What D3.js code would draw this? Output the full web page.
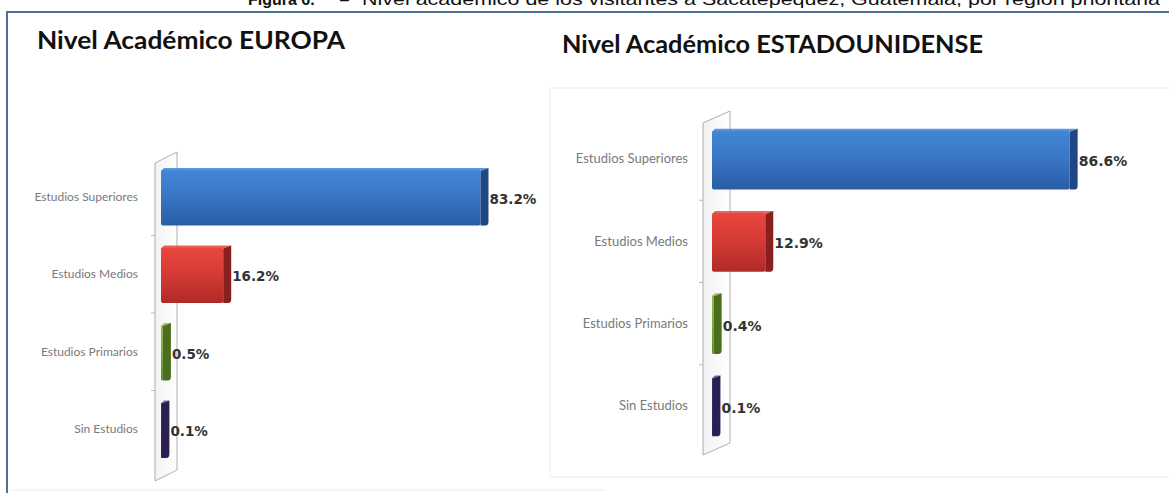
<!DOCTYPE html>
<html>
<head>
<meta charset="utf-8">
<script src="https://cdn.jsdelivr.net/npm/d3@7"></script>
<style>
  html, body { margin: 0; padding: 0; background: #fff; }
  svg { display: block; }
  .cat text { font-family: Lato, "Open Sans", sans-serif; fill: #7a7a7a; }
  .val { font-family: "DejaVu Sans", Verdana, sans-serif; font-weight: bold; fill: #333; }
  .title { font-family: Lato, "Open Sans", sans-serif; font-weight: bold; fill: #111; }
</style>
</head>
<body>
<div id="chart"></div>
<script>
const categories = ["Estudios Superiores", "Estudios Medios", "Estudios Primarios", "Sin Estudios"];
const europa = [83.2, 16.2, 0.5, 0.1];
const estadosUnidos = [86.6, 12.9, 0.4, 0.1];
const valueLabels = { europa: ["83.2%", "16.2%", "0.5%", "0.1%"], eeuu: ["86.6%", "12.9%", "0.4%", "0.1%"] };

// colour per category: [top, bottom, side]
const palette = [
    ["#4286d6", "#2a5ca6", "#1f4784"],
    ["#ea463d", "#b02a28", "#87201e"],
    ["#92bb45", "#5e8a28", "#4a6e1e"],
    ["#5e4c94", "#39296a", "#2a1f50"]
];

const W = 1169, H = 493;
const svg = d3.select("#chart").append("svg")
    .attr("width", W).attr("height", H);

const defs = svg.append("defs");
palette.forEach((p, i) => {
    const g = defs.append("linearGradient")
        .attr("id", "front" + i).attr("x1", 0).attr("y1", 0).attr("x2", 0).attr("y2", 1);
    g.append("stop").attr("offset", "0%").attr("stop-color", p[0]);
    g.append("stop").attr("offset", "45%").attr("stop-color", d3.interpolateRgb(p[0], p[1])(0.35));
    g.append("stop").attr("offset", "100%").attr("stop-color", p[1]);
});
const wallGrad = defs.append("linearGradient")
    .attr("id", "wall").attr("x1", 0).attr("y1", 0).attr("x2", 1).attr("y2", 0);
wallGrad.append("stop").attr("offset", "0%").attr("stop-color", "#f2f2f2");
wallGrad.append("stop").attr("offset", "100%").attr("stop-color", "#ffffff");

// caption, cut by the top of the picture as in the original
const cap = svg.append("text")
    .attr("y", 5)
    .style("font-family", "Arial, 'Liberation Sans', sans-serif")
    .style("font-size", "16px")
    .style("fill", "#111");
cap.append("tspan").attr("x", 248).style("font-weight", "bold").text("Figura 6.");
cap.append("tspan").attr("x", 340).text("–");
cap.append("tspan").attr("x", 362)
    .attr("textLength", 798).attr("lengthAdjust", "spacingAndGlyphs")
    .text("Nivel académico de los visitantes a Sacatepéquez, Guatemala, por región prioritaria");

// frame
svg.append("path")
    .attr("d", `M7,${H} V12 H${W}`)
    .attr("fill", "none").attr("stroke", "#4f6e9c").attr("stroke-width", 2);

// faint chart area edges
svg.append("line").attr("x1", 10).attr("x2", 604).attr("y1", 490).attr("y2", 490)
    .attr("stroke", "#ececec");
svg.append("path").attr("d", `M${W},88 H550 V477 H${W}`)
    .attr("fill", "none").attr("stroke", "#ececec");

function drawPanel(cfg, values, labels) {
    const g = svg.append("g");

    g.append("text").attr("class", "title")
        .attr("x", cfg.titleX).attr("y", cfg.titleY)
        .style("font-size", "24px")
        .attr("textLength", cfg.titleLen).attr("lengthAdjust", "spacingAndGlyphs")
        .text(cfg.title);

    const x = d3.scaleLinear().domain([0, 100]).range([cfg.x0, cfg.x0 + cfg.xPer100]);
    const y = d3.scaleBand().domain(categories).range(cfg.yRange)
        .paddingInner(0.26).paddingOuter(0.13);

    // wall
    const wl = cfg.wallX, dx = cfg.wallDx, dy = cfg.wallDy;
    g.append("path")
        .attr("d", `M${wl},${cfg.wallTop} L${wl + dx},${cfg.wallTop + dy} V${cfg.wallBottom + dy} L${wl},${cfg.wallBottom} Z`)
        .attr("fill", "url(#wall)").attr("stroke", "#9a9a9a").attr("stroke-width", 0.8);

    // boundary ticks on the wall
    const bounds = categories.slice(1).map(c => y(c) - y.step() * y.paddingInner() / 2);
    g.selectAll(".tk").data(bounds).enter().append("line")
        .attr("x1", wl - 4).attr("x2", wl)
        .attr("y1", d => d).attr("y2", d => d)
        .attr("stroke", "#aaa").attr("stroke-width", 0.8);

    // category labels
    g.append("g").attr("class", "cat")
        .attr("transform", `translate(${cfg.labelX},0)`)
        .call(d3.axisLeft(y).tickSize(0).tickPadding(0))
        .call(s => s.select(".domain").remove())
        .selectAll("text").style("font-size", cfg.catSize + "px");

    const depth = cfg.depth;
    const bars = g.selectAll(".bar").data(values).enter().append("g");

    bars.append("path")
        .attr("d", (d, i) => {
            const y0 = y(categories[i]);
            const xr = x(d);
            return `M${x(0)},${y0 + 3} L${x(0) + 3},${y0} H${xr + depth} L${xr},${y0 + 3} Z`;
        })
        .attr("fill", (d, i) => palette[i][0]).attr("opacity", 0.85);

    bars.append("rect")
        .attr("x", x(0))
        .attr("y", (d, i) => y(categories[i]) + 2)
        .attr("width", d => Math.max(1, x(d) - x(0)))
        .attr("height", y.bandwidth() - 2)
        .attr("rx", 2)
        .attr("fill", (d, i) => `url(#front${i})`);

    bars.append("path")
        .attr("d", (d, i) => {
            const y0 = y(categories[i]), y1 = y0 + y.bandwidth();
            const xr = x(d);
            return `M${xr},${y0 + 3} L${xr + depth},${y0} V${y1 - 4} Q${xr + depth},${y1} ${xr + depth - 3},${y1} H${xr} Z`;
        })
        .attr("fill", (d, i) => palette[i][2]);

    bars.append("text").attr("class", "val")
        .attr("x", d => x(d) + depth + 1)
        .attr("y", (d, i) => y(categories[i]) + y.bandwidth() / 2 + 3)
        .attr("dominant-baseline", "middle")
        .style("font-size", cfg.valSize + "px")
        .text((d, i) => labels[i]);
}

drawPanel({
    title: "Nivel Académico EUROPA", titleX: 37, titleY: 49, titleLen: 308,
    x0: 161, xPer100: 384,
    yRange: [158, 468],
    wallX: 155, wallDx: 22, wallDy: -11, wallTop: 163, wallBottom: 481,
    labelX: 138, catSize: 12, valSize: 13.5, depth: 8
}, europa, valueLabels.europa);

drawPanel({
    title: "Nivel Académico ESTADOUNIDENSE", titleX: 562, titleY: 53, titleLen: 421,
    x0: 712, xPer100: 413,
    yRange: [118, 447],
    wallX: 703, wallDx: 27, wallDy: -12, wallTop: 123, wallBottom: 455,
    labelX: 688, catSize: 13, valSize: 14, depth: 8
}, estadosUnidos, valueLabels.eeuu);
</script>
</body>
</html>
